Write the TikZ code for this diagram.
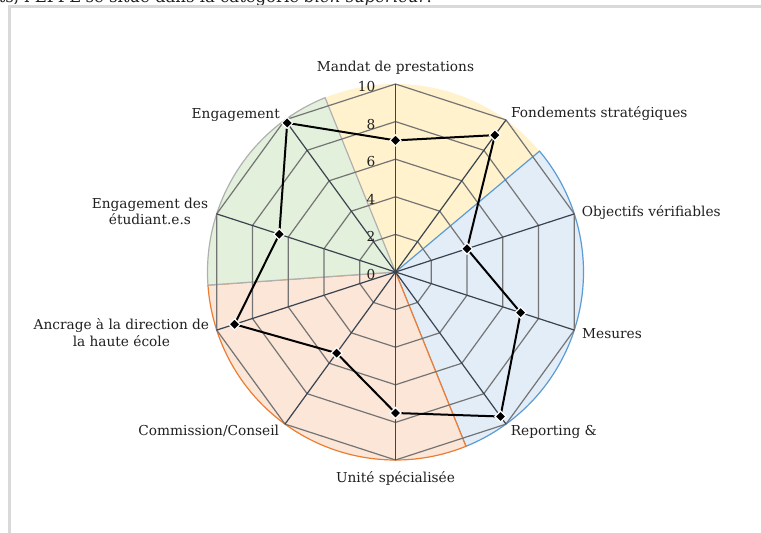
\documentclass[tikz,border=0pt]{standalone}
\usepackage{fontspec}
\setmainfont{DejaVu Serif}
\usetikzlibrary{shapes.geometric}

\definecolor{yellowfill}{HTML}{FFF2CC}
\definecolor{bluefill}{HTML}{E2EDF7}
\definecolor{blueline}{HTML}{5B9BD5}
\definecolor{orangefill}{HTML}{FBE6D8}
\definecolor{orangeline}{HTML}{ED7D31}
\definecolor{greenfill}{HTML}{E3F0DB}
\definecolor{greenline}{HTML}{B0B0B0}
\definecolor{ringgray}{HTML}{747474}
\definecolor{spokegray}{HTML}{3A4350}
\definecolor{labelgray}{HTML}{1F1F1F}
\definecolor{framegray}{HTML}{D9D9D9}

\begin{document}
\begin{tikzpicture}[x=1pt,y=1pt,
    font=\fontsize{13.7}{16.7}\selectfont,
    ring/.style={draw=ringgray,line width=1.2pt},
    spoke/.style={draw=spokegray,line width=1.2pt},
    datapoly/.style={draw=black,line width=2pt,line join=round},
    marker/.style={diamond,fill=black,draw=white,line width=1.2pt,
      inner sep=0pt,minimum size=11.5pt},
    lbl/.style={inner sep=0pt,text=labelgray}]
  \useasboundingbox (-395.5,-261) rectangle (365.5,272);
  \coordinate (O) at (0,0);
  \node[lbl,anchor=base west,font=\fontsize{16.5}{19}\selectfont] (intro)
    at (-397,269) {ts, l'EPFL se situe dans la catégorie \textit{bien supérieur}.};
  \draw[framegray,line width=2.2pt]
    (-386,-261) -- (-386,265.5) -- (365.5,265.5);
  % sectors
  \fill[yellowfill]
    (O) -- (112:188) arc[start angle=112,end angle=40,radius=188] -- cycle;
  \filldraw[fill=bluefill,draw=blueline,line width=1.2pt]
    (O) -- (40:188) arc[start angle=40,end angle=-68,radius=188] -- cycle;
  \filldraw[fill=orangefill,draw=orangeline,line width=1.2pt]
    (O) -- (-68:188) arc[start angle=-68,end angle=-176,radius=188] -- cycle;
  \filldraw[fill=greenfill,draw=greenline,line width=1.2pt]
    (O) -- (-176:188) arc[start angle=-176,end angle=-248,radius=188] -- cycle;
  % grid
  \foreach \k in {1,...,5}
    \draw[ring] (90:{\k*37.6}) \foreach \i in {1,...,9} { -- ({90-36*\i}:{\k*37.6}) } -- cycle;
  \foreach \i in {0,...,9} {
    \coordinate (a\i) at ({90-36*\i}:188);
    \draw[spoke] (O) -- (a\i);
  }
  \foreach \k/\v in {0/0,1/2,2/4,3/6,4/8,5/10}
    \node[lbl,anchor=east] (n\v) at (-20,{\k*37.6-2.5}) {\v};
  % data
  \foreach \v [count=\i from 0] in {7,9,4,7,9.5,7.5,5.33,9,6.5,9.8}
    \coordinate (d\i) at ({90-36*\i}:{\v*18.8});
  \draw[datapoly] (d0) \foreach \i in {1,...,9} { -- (d\i) } -- cycle;
  \foreach \i in {0,...,9}
    \node[marker] (m\i) at (d\i) {};
  % axis labels
  \node[lbl,anchor=base] (l0) at (0,200.3) {Mandat de prestations};
  \node[lbl,anchor=base west] (l1) at (115.5,154.3) {Fondements stratégiques};
  \node[lbl,anchor=base west] (l2) at (186.2,55.3) {Objectifs vérifiables};
  \node[lbl,anchor=base west] (l3) at (186.5,-66.3) {Mesures};
  \node[lbl,anchor=base west] (l4) at (115.2,-163.7) {Reporting \&};
  \node[lbl,anchor=base] (l5) at (0,-210.7) {Unité spécialisée};
  \node[lbl,anchor=base east] (l6) at (-116.2,-163.7) {Commission/Conseil};
  \node[lbl,anchor=east,align=center] (l7) at (-186.2,-60.5)
    {Ancrage à la direction de\\la haute école};
  \node[lbl,anchor=east,align=center] (l8) at (-187.2,60.5)
    {Engagement des\\étudiant.e.s};
  \node[lbl,anchor=base east] (l9) at (-115.5,153.7) {Engagement};
\end{tikzpicture}
\end{document}
